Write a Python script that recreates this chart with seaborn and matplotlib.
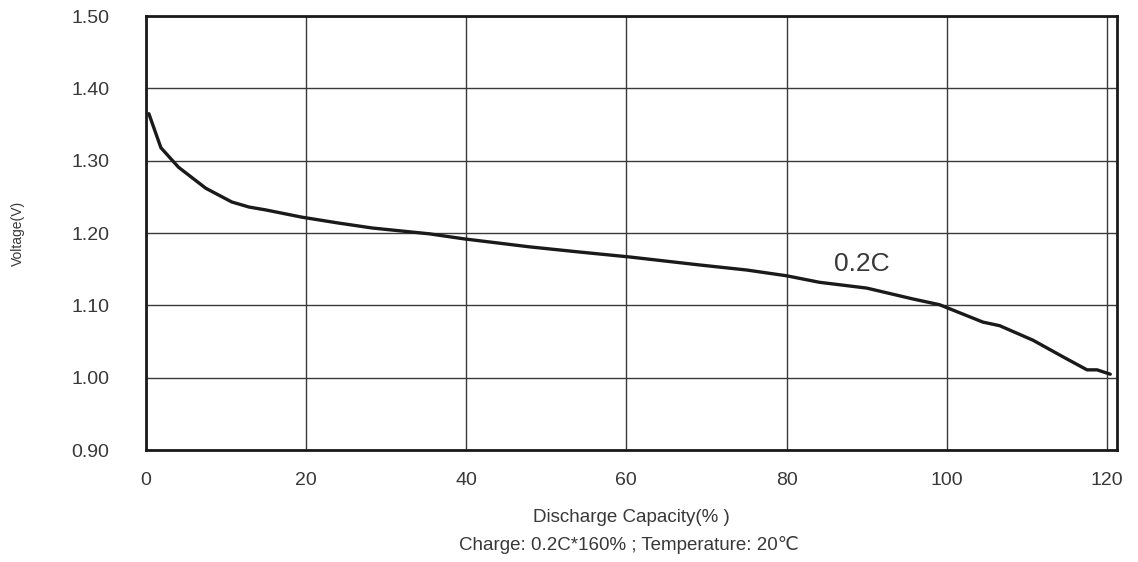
import matplotlib
matplotlib.use("Agg")
import matplotlib.pyplot as plt
import seaborn as sns
import pandas as pd

# discharge curve
capacity_pct = [0.4, 1.9, 4.1, 7.5, 10.75, 12.9, 15.0, 19.5, 24.0, 28.3, 35.4,
                39.75, 47.9, 54.0, 60.4, 69.1, 75.0, 80.0, 84.1, 90.0, 95.75,
                99.1, 104.5, 106.6, 110.75, 114.5, 117.5, 118.75, 120.4]
voltage_v = [1.365, 1.318, 1.291, 1.262, 1.243, 1.236, 1.232, 1.222, 1.214,
             1.207, 1.199, 1.192, 1.181, 1.174, 1.167, 1.156, 1.149, 1.141,
             1.132, 1.124, 1.109, 1.101, 1.077, 1.072, 1.052, 1.029, 1.011,
             1.011, 1.005]
x_ticks = [0, 20, 40, 60, 80, 100, 120]
y_ticks = [0.90, 1.00, 1.10, 1.20, 1.30, 1.40, 1.50]
curve_label = "0.2C"

df = pd.DataFrame({"capacity": capacity_pct, "voltage": voltage_v})

sns.set_style("white")
plt.rcParams["font.family"] = ["Liberation Sans", "DejaVu Sans"]

fig = plt.figure(figsize=(11.38, 5.62), dpi=100)
ax = fig.add_axes([0.128, 0.199, 0.8536, 0.7725])

sns.lineplot(data=df, x="capacity", y="voltage", ax=ax, color="#1a1a1a",
             linewidth=2.4, sort=True)

ax.set_xlim(0, 121.25)
ax.set_ylim(0.90, 1.50)
ax.set_xticks(x_ticks)
ax.set_yticks(y_ticks)
ax.set_xticklabels([str(t) for t in x_ticks])
ax.set_yticklabels([f"{t:.2f}" for t in y_ticks])
ax.grid(True, color="#3a3a3a", linewidth=1.0)
ax.tick_params(axis="both", length=0, labelsize=14, colors="#383838")
ax.tick_params(axis="y", pad=26)
ax.tick_params(axis="x", pad=16)
for s in ax.spines.values():
    s.set_color("#1a1a1a")
    s.set_linewidth(2)

ax.set_ylabel("Voltage(V)", fontsize=10, color="#383838")
ax.yaxis.set_label_coords(-0.124, 0.5)
ax.set_xlabel("")
ax.text(89.4, 1.157, curve_label, fontsize=19, color="#383838",
        ha="center", va="center")

fig.text(0.555, 0.080, "Discharge Capacity(% )", ha="center", va="center",
         fontsize=13.5, color="#383838")
fig.text(0.553, 0.030, "Charge: 0.2C*160% ; Temperature: 20\u2103",
         ha="center", va="center", fontsize=13.5, color="#383838")

fig.savefig("out.png", dpi=100)
